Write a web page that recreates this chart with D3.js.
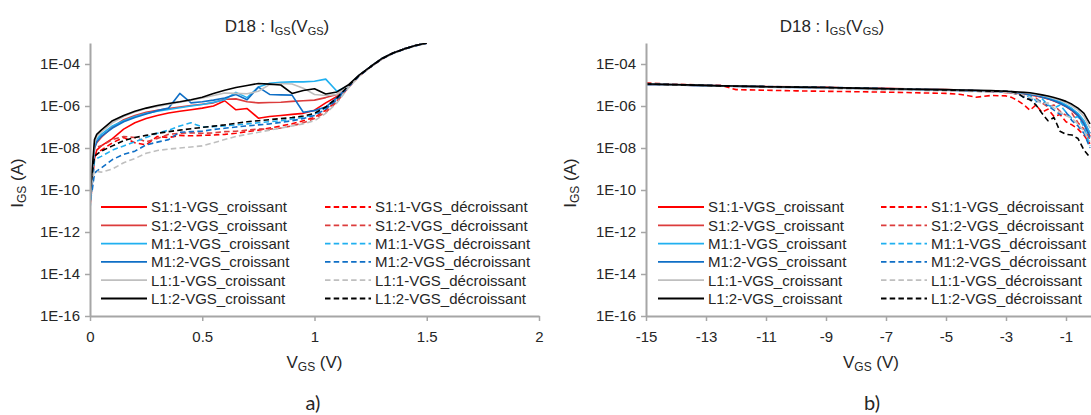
<!DOCTYPE html>
<html><head><meta charset="utf-8">
<script src="https://cdn.jsdelivr.net/npm/d3@7"></script>
<style>
html,body{margin:0;padding:0;background:#fff;}
svg text{font-family:"Liberation Sans",Arial,sans-serif;fill:#262626;}
</style></head>
<body>
<svg id="c" width="1091" height="415"></svg>
<script>
// ---------- DATA (I_GS values, stored as log10(I/A)) ----------
const seriesNames = ["S1:1-VGS_croissant","S1:1-VGS_décroissant","S1:2-VGS_croissant","S1:2-VGS_décroissant",
  "M1:1-VGS_croissant","M1:1-VGS_décroissant","M1:2-VGS_croissant","M1:2-VGS_décroissant",
  "L1:1-VGS_croissant","L1:1-VGS_décroissant","L1:2-VGS_croissant","L1:2-VGS_décroissant"];
const seriesColors = ["#ff0000","#ff0000","#dc3c3c","#dc3c3c","#20b0f0","#20b0f0","#0f6fc6","#0f6fc6","#bfbfbf","#bfbfbf","#000000","#000000"];
const seriesDashed = [false,true,false,true,false,true,false,true,false,true,false,true];

const yTickValues = [1e-16,1e-14,1e-12,1e-10,1e-8,1e-6,1e-4];
const yTickLabels = ["1E-16","1E-14","1E-12","1E-10","1E-08","1E-06","1E-04"];
const xTicksLeft = [0,0.5,1,1.5,2];
const xTickLabelsLeft = ["0","0.5","1","1.5","2"];
const xTicksRight = [-15,-13,-11,-9,-7,-5,-3,-1];
const xTickLabelsRight = ["-15","-13","-11","-9","-7","-5","-3","-1"];

// chart a) : VGS > 0
const vLeft = [0,0.01,0.02,0.03,0.05,0.1,0.15,0.2,0.25,0.3,0.35,0.4,0.45,0.5,0.55,0.6,0.65,0.7,0.75,0.8,0.85,0.9,0.95,1.0,1.05,1.1,1.15,1.2,1.25,1.3,1.35,1.4,1.45,1.5];
const a_S1_1_cr  = [-10.8,-9.7,-8.5,-8.1,-7.9,-7.55,-7.1,-6.8,-6.6,-6.45,-6.33,-6.25,-6.18,-6.1,-6.0,-5.75,-6.18,-6.12,-6.58,-6.5,-6.45,-6.4,-6.35,-6.2,-5.85,-5.55,-5.1,-4.55,-4.13,-3.75,-3.48,-3.28,-3.12,-3.0];
const a_S1_1_dec = [-10.5,-9.3,-8.4,-8.3,-8.1,-7.75,-7.5,-7.75,-7.85,-7.45,-7.5,-7.4,-7.42,-7.4,-7.38,-7.35,-7.3,-7.22,-7.15,-7.05,-6.95,-6.85,-6.7,-6.55,-6.2,-5.75,-5.12,-4.56,-4.14,-3.76,-3.49,-3.29,-3.13,-3.01];
const a_S1_2_cr  = [-10.4,-9.3,-8.0,-7.75,-7.5,-7.0,-6.65,-6.45,-6.3,-6.2,-6.12,-6.05,-5.98,-5.92,-5.85,-5.68,-5.66,-5.8,-5.85,-5.83,-5.82,-5.78,-5.75,-5.72,-5.6,-5.45,-5.08,-4.54,-4.13,-3.75,-3.48,-3.28,-3.12,-3.0];
const a_S1_2_dec = [-10.3,-9.0,-8.0,-7.95,-7.9,-7.6,-7.45,-7.5,-7.7,-7.55,-7.35,-7.3,-7.28,-7.3,-7.28,-7.22,-7.2,-7.15,-7.1,-7.1,-7.05,-6.95,-6.8,-6.6,-6.3,-5.8,-5.12,-4.56,-4.14,-3.76,-3.49,-3.29,-3.13,-3.01];
const a_M1_1_cr  = [-10.6,-9.3,-7.9,-7.6,-7.35,-6.95,-6.7,-6.5,-6.35,-6.25,-6.17,-6.08,-6.0,-5.93,-5.82,-5.7,-5.35,-5.6,-5.1,-4.92,-4.87,-4.85,-4.85,-4.82,-4.72,-5.3,-5.05,-4.53,-4.12,-3.74,-3.48,-3.28,-3.12,-3.0];
const a_M1_1_dec = [-10.9,-9.8,-8.6,-8.5,-8.4,-8.1,-7.9,-7.7,-7.5,-7.3,-7.15,-6.95,-6.8,-7.0,-6.98,-6.95,-6.9,-6.85,-6.8,-6.75,-6.7,-6.62,-6.55,-6.4,-6.1,-5.65,-5.08,-4.55,-4.13,-3.75,-3.49,-3.29,-3.13,-3.01];
const a_M1_2_cr  = [-10.7,-9.5,-8.0,-7.7,-7.45,-7.05,-6.75,-6.55,-6.38,-6.22,-6.1,-5.4,-5.85,-5.8,-5.72,-5.62,-5.45,-5.7,-5.1,-5.45,-5.47,-5.48,-6.3,-6.22,-6.05,-5.6,-5.08,-4.54,-4.13,-3.75,-3.48,-3.28,-3.12,-3.0];
const a_M1_2_dec = [-10.4,-10.0,-9.2,-9.1,-8.95,-8.55,-8.3,-8.15,-7.85,-7.72,-7.6,-7.25,-7.22,-7.2,-7.12,-7.06,-7.0,-6.95,-6.9,-6.85,-6.78,-6.7,-6.6,-6.45,-6.15,-5.7,-5.1,-4.56,-4.14,-3.76,-3.49,-3.29,-3.13,-3.01];
const a_L1_1_cr  = [-10.5,-9.2,-7.8,-7.45,-7.25,-6.8,-6.5,-6.28,-6.12,-6.02,-5.92,-5.82,-5.72,-5.62,-5.5,-5.38,-5.4,-5.42,-5.3,-4.98,-4.93,-4.95,-5.15,-5.45,-5.5,-5.45,-5.05,-4.53,-4.12,-3.74,-3.48,-3.28,-3.12,-3.0];
const a_L1_1_dec = [-10.2,-9.5,-9.1,-9.12,-9.15,-9.0,-8.7,-8.5,-8.25,-8.12,-8.05,-8.0,-7.95,-7.9,-7.75,-7.6,-7.45,-7.35,-7.25,-7.15,-7.05,-6.95,-6.85,-6.7,-6.35,-5.85,-5.15,-4.57,-4.15,-3.77,-3.5,-3.3,-3.14,-3.02];
const a_L1_2_cr  = [-10.3,-9.0,-7.6,-7.35,-7.15,-6.7,-6.45,-6.25,-6.1,-5.98,-5.88,-5.8,-5.7,-5.58,-5.4,-5.25,-5.12,-5.02,-4.93,-4.96,-5.0,-5.4,-5.26,-5.18,-5.43,-5.33,-5.0,-4.52,-4.12,-3.74,-3.48,-3.28,-3.12,-3.0];
const a_L1_2_dec = [-10.0,-9.2,-8.4,-8.3,-8.15,-7.9,-7.65,-7.5,-7.4,-7.3,-7.22,-7.15,-7.08,-7.02,-6.96,-6.9,-6.82,-6.75,-6.7,-6.65,-6.6,-6.55,-6.48,-6.35,-6.05,-5.62,-5.05,-4.54,-4.13,-3.75,-3.48,-3.28,-3.12,-3.0];

// chart b) : VGS < 0
const vRight = [-15,-14,-13,-12.5,-12,-11,-10,-9,-8,-7,-6,-5,-4.5,-4,-3.5,-3,-2.8,-2.6,-2.4,-2.2,-2,-1.8,-1.6,-1.4,-1.2,-1,-0.8,-0.6,-0.4,-0.2];
const b_S1_1_cr  = [-4.97,-5.0,-5.03,-5.05,-5.06,-5.08,-5.1,-5.12,-5.14,-5.17,-5.2,-5.23,-5.25,-5.28,-5.31,-5.35,-5.37,-5.4,-5.43,-5.47,-5.52,-5.58,-5.66,-5.76,-5.88,-6.03,-6.22,-6.47,-6.85,-7.45];
const b_S1_1_dec = [-4.93,-4.98,-5.0,-5.02,-5.22,-5.25,-5.28,-5.3,-5.32,-5.34,-5.37,-5.4,-5.45,-5.58,-5.5,-5.52,-5.6,-5.75,-5.95,-6.2,-5.95,-6.3,-6.15,-6.5,-6.4,-6.75,-6.9,-7.1,-7.4,-7.8];
const b_S1_2_cr  = [-4.96,-4.99,-5.02,-5.04,-5.05,-5.07,-5.09,-5.11,-5.14,-5.16,-5.19,-5.22,-5.24,-5.27,-5.3,-5.33,-5.35,-5.38,-5.41,-5.45,-5.5,-5.56,-5.63,-5.72,-5.84,-5.98,-6.15,-6.4,-6.75,-7.3];
const b_S1_2_dec = [-4.9,-4.97,-5.0,-5.03,-5.05,-5.08,-5.1,-5.12,-5.15,-5.18,-5.22,-5.25,-5.28,-5.3,-5.32,-5.35,-5.38,-5.45,-5.55,-5.7,-5.62,-5.85,-6.05,-5.95,-6.25,-6.45,-6.35,-6.8,-7.1,-7.6];
const b_M1_1_cr  = [-4.96,-4.99,-5.03,-5.04,-5.06,-5.08,-5.1,-5.13,-5.15,-5.18,-5.21,-5.23,-5.25,-5.27,-5.29,-5.32,-5.34,-5.36,-5.39,-5.42,-5.47,-5.53,-5.6,-5.7,-5.8,-5.95,-6.12,-6.35,-6.7,-7.3];
const b_M1_1_dec = [-4.95,-4.98,-5.01,-5.03,-5.05,-5.07,-5.09,-5.11,-5.14,-5.17,-5.2,-5.23,-5.25,-5.27,-5.28,-5.3,-5.33,-5.4,-5.6,-5.5,-5.75,-5.65,-5.95,-6.1,-5.95,-6.3,-6.6,-6.5,-7.0,-7.9];
const b_M1_2_cr  = [-4.98,-5.0,-5.04,-5.05,-5.07,-5.1,-5.12,-5.14,-5.17,-5.2,-5.22,-5.25,-5.27,-5.29,-5.31,-5.34,-5.36,-5.38,-5.41,-5.45,-5.5,-5.57,-5.65,-5.75,-5.87,-6.02,-6.2,-6.45,-6.85,-7.5];
const b_M1_2_dec = [-4.97,-5.0,-5.03,-5.04,-5.06,-5.09,-5.11,-5.13,-5.16,-5.19,-5.22,-5.24,-5.26,-5.28,-5.3,-5.32,-5.36,-5.45,-5.55,-5.65,-5.8,-5.75,-6.0,-6.2,-6.4,-6.3,-6.7,-6.95,-7.3,-8.0];
const b_L1_1_cr  = [-4.97,-5.0,-5.03,-5.05,-5.06,-5.09,-5.11,-5.13,-5.16,-5.19,-5.21,-5.23,-5.25,-5.27,-5.29,-5.32,-5.33,-5.35,-5.37,-5.4,-5.45,-5.5,-5.56,-5.64,-5.73,-5.85,-6.0,-6.2,-6.5,-7.05];
const b_L1_1_dec = [-4.96,-5.0,-5.03,-5.05,-5.07,-5.1,-5.13,-5.16,-5.2,-5.24,-5.26,-5.28,-5.3,-5.31,-5.33,-5.35,-5.38,-5.42,-5.5,-5.6,-5.7,-5.9,-5.85,-6.1,-6.3,-6.45,-6.6,-6.85,-7.2,-7.7];
const b_L1_2_cr  = [-4.95,-4.98,-5.02,-5.04,-5.05,-5.08,-5.1,-5.12,-5.15,-5.18,-5.2,-5.22,-5.24,-5.25,-5.27,-5.3,-5.31,-5.33,-5.35,-5.37,-5.42,-5.47,-5.52,-5.6,-5.68,-5.78,-5.92,-6.1,-6.35,-6.85];
const b_L1_2_dec = [-4.95,-4.99,-5.02,-5.04,-5.06,-5.08,-5.1,-5.12,-5.15,-5.18,-5.21,-5.24,-5.26,-5.27,-5.29,-5.3,-5.32,-5.4,-5.6,-5.7,-5.95,-6.35,-6.7,-6.55,-7.2,-7.35,-7.38,-7.55,-8.1,-8.45];

const leftSeries  = [a_S1_1_cr,a_S1_1_dec,a_S1_2_cr,a_S1_2_dec,a_M1_1_cr,a_M1_1_dec,a_M1_2_cr,a_M1_2_dec,a_L1_1_cr,a_L1_1_dec,a_L1_2_cr,a_L1_2_dec];
const rightSeries = [b_S1_1_cr,b_S1_1_dec,b_S1_2_cr,b_S1_2_dec,b_M1_1_cr,b_M1_1_dec,b_M1_2_cr,b_M1_2_dec,b_L1_1_cr,b_L1_1_dec,b_L1_2_cr,b_L1_2_dec];

// ---------- DRAW ----------
const svg = d3.select("#c");
const AXIS = "#a6a6a6";
const DASH = "5.5,3.2";
const FONT = "'Liberation Sans', Arial, sans-serif";

function panel(opt){
  const g = svg.append("g");
  const x = d3.scaleLinear().domain(opt.xDomain).range([opt.x0, opt.x1]);
  const y = d3.scaleLog().domain([1e-16, 1e-3]).range([316, 43]);

  const clipId = "clip" + opt.id;
  svg.append("clipPath").attr("id", clipId).append("rect")
    .attr("x", opt.x0).attr("y", 43).attr("width", opt.x1 - opt.x0).attr("height", 316 - 43);

  const line = d3.line().x(d => x(d[0])).y(d => y(d[1])).curve(d3.curveLinear);
  const lg = g.append("g").attr("clip-path", `url(#${clipId})`);
  opt.series.forEach((s, i) => {
    const pts = opt.xs.map((v, k) => [v, Math.pow(10, s[k])]);
    lg.append("path").attr("d", line(pts)).attr("fill", "none")
      .attr("stroke", seriesColors[i]).attr("stroke-width", 1.6)
      .attr("stroke-linejoin", "round")
      .attr("stroke-dasharray", seriesDashed[i] ? DASH : null);
  });

  const ya = d3.axisLeft(y).tickValues(yTickValues)
    .tickFormat((d, i) => yTickLabels[i]).tickSize(5).tickSizeOuter(0).tickPadding(5);
  const yg = g.append("g").attr("transform", `translate(${opt.x0},0)`).call(ya);
  const xa = d3.axisBottom(x).tickValues(opt.xTicks)
    .tickFormat((d, i) => opt.xTickLabels[i]).tickSize(5).tickSizeOuter(0).tickPadding(10);
  const xg = g.append("g").attr("transform", `translate(0,316)`).call(xa);
  [yg, xg].forEach(a => {
    a.select(".domain").attr("stroke", AXIS).attr("stroke-width", 2);
    a.selectAll(".tick line").attr("stroke", AXIS).attr("stroke-width", 1.5);
    a.selectAll(".tick text").style("font-family", FONT)
      .style("font-size", "15px").attr("fill", "#262626");
  });

  const t = g.append("text").attr("x", opt.titleX).attr("y", 32)
    .attr("text-anchor", "middle").style("font-size", "17px");
  t.append("tspan").text("D18 : I");
  t.append("tspan").text("GS").style("font-size", "11px").attr("dy", 3);
  t.append("tspan").text("(V").attr("dy", -3);
  t.append("tspan").text("GS").style("font-size", "11px").attr("dy", 3);
  t.append("tspan").text(")").attr("dy", -3);

  const yl = g.append("text").attr("transform", `translate(${opt.yLabelX},183) rotate(-90)`)
    .attr("text-anchor", "middle").style("font-size", "17px");
  yl.append("tspan").text("I");
  yl.append("tspan").text("GS").style("font-size", "12px").attr("dy", 3);
  yl.append("tspan").text(" (A)").attr("dy", -3);

  const xl = g.append("text").attr("x", (opt.x0 + opt.x1) / 2).attr("y", 368)
    .attr("text-anchor", "middle").style("font-size", "17px");
  xl.append("tspan").text("V");
  xl.append("tspan").text("GS").style("font-size", "12px").attr("dy", 3);
  xl.append("tspan").text(" (V)").attr("dy", -3);

  g.append("text").attr("x", opt.letterX).attr("y", 410).attr("text-anchor", "middle")
    .style("font-family", "Lato, 'Open Sans', sans-serif").style("font-size", "20px")
    .attr("fill", "#000").text(opt.letter);

  const rows = [207, 225.3, 243.6, 261.9, 280.2, 298.5];
  seriesNames.forEach((name, i) => {
    const col = i % 2, row = Math.floor(i / 2);
    const lx = opt.legCols[col], yy = rows[row];
    g.append("line").attr("x1", lx).attr("x2", lx + 46).attr("y1", yy).attr("y2", yy)
      .attr("stroke", seriesColors[i]).attr("stroke-width", 1.8)
      .attr("stroke-dasharray", seriesDashed[i] ? DASH : null);
    g.append("text").attr("x", lx + 50).attr("y", yy + 5.3)
      .style("font-size", "15px").text(name);
  });
}

panel({id: "a", xDomain: [0, 2], x0: 90, x1: 539, xs: vLeft, series: leftSeries,
  xTicks: xTicksLeft, xTickLabels: xTickLabelsLeft, titleX: 277, yLabelX: 23,
  letter: "a)", letterX: 313, legCols: [101, 325]});
panel({id: "b", xDomain: [-15, 0], x0: 646, x1: 1096, xs: vRight, series: rightSeries,
  xTicks: xTicksRight, xTickLabels: xTickLabelsRight, titleX: 832, yLabelX: 576,
  letter: "b)", letterX: 872, legCols: [658, 881]});
</script>
</body></html>
